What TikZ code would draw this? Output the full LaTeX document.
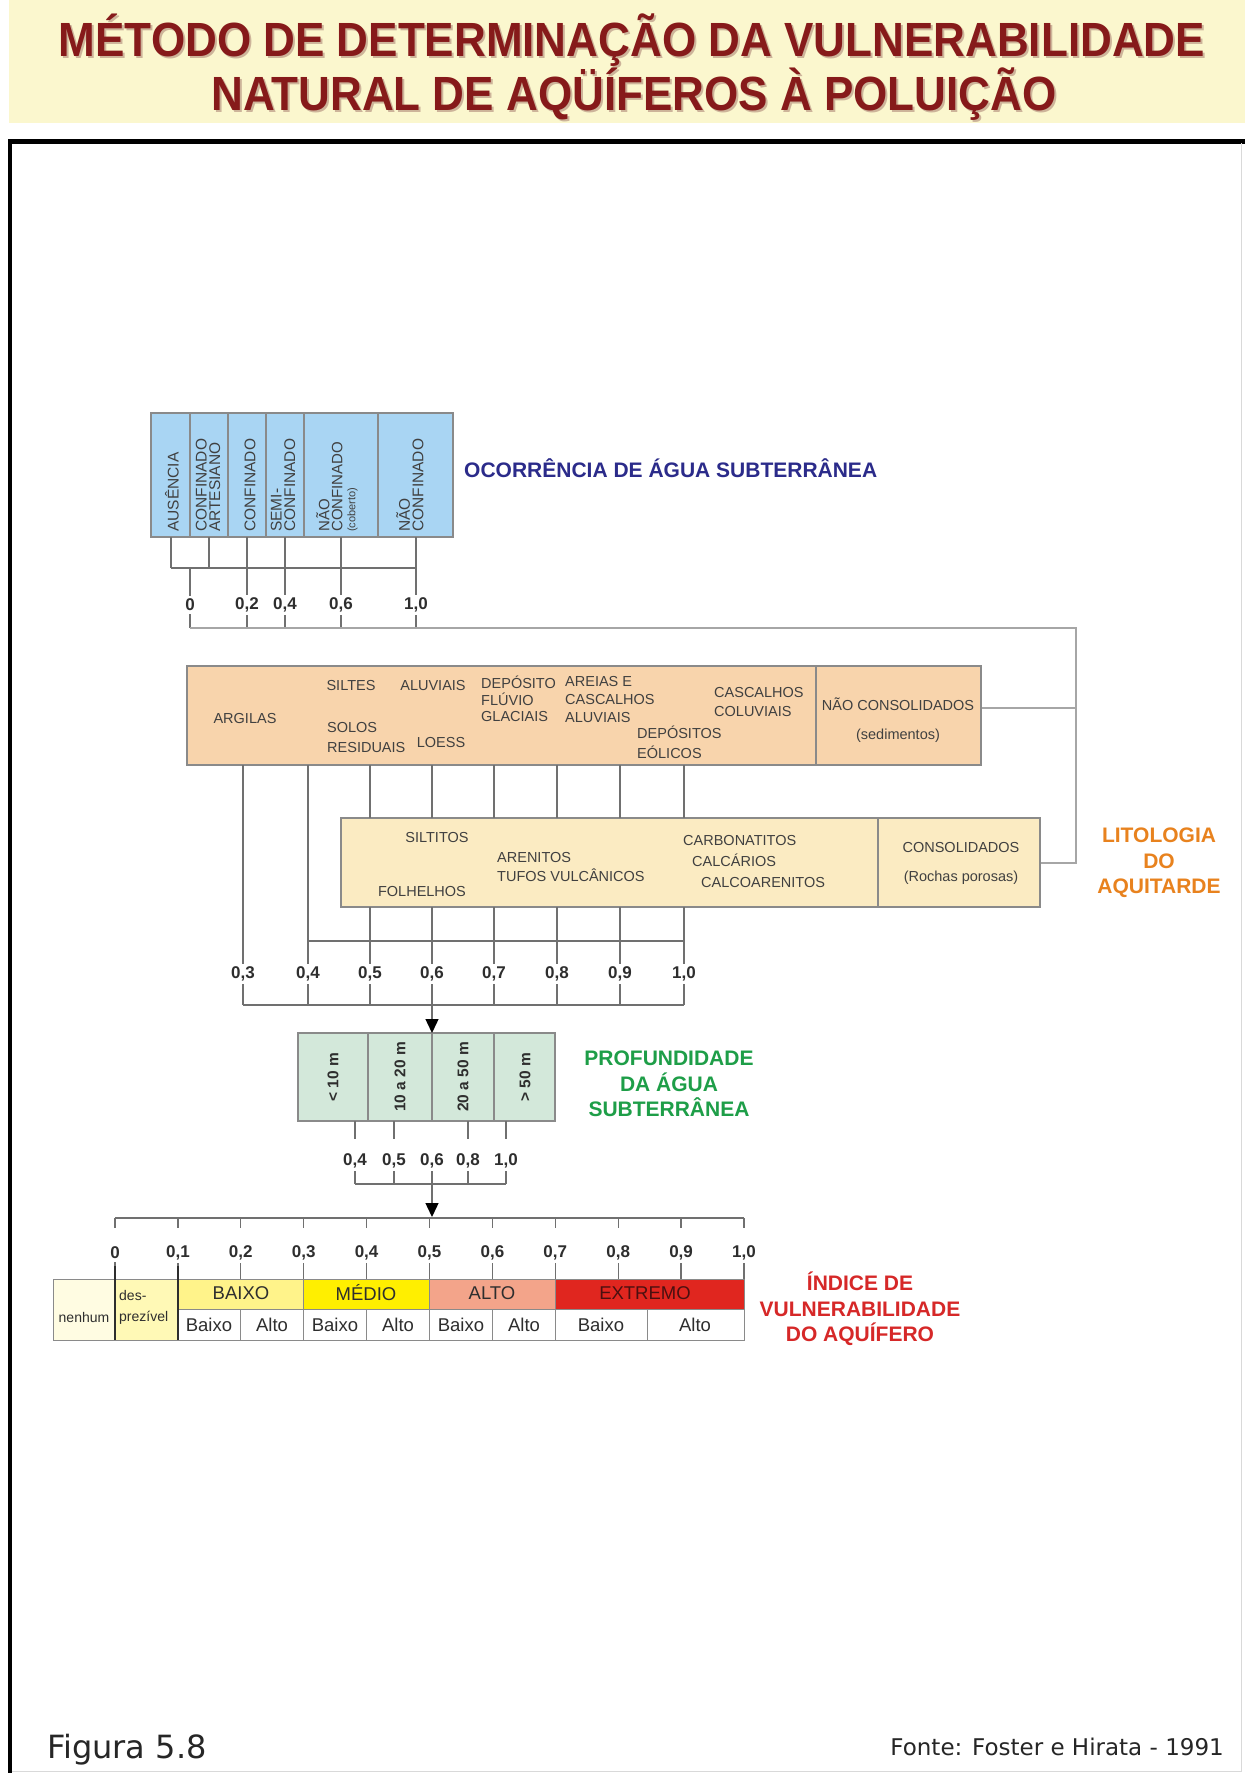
\documentclass[tikz,border=0pt]{standalone}
\usepackage{graphicx}
\usepackage{fontspec}
\setmainfont{Liberation Sans}
\newfontfamily\footfont{DejaVu Sans}
\usetikzlibrary{arrows.meta}

\definecolor{bandyellow}{HTML}{FBF7CE}
\definecolor{titlered}{HTML}{861A1A}
\definecolor{titleshade}{HTML}{CDB49A}
\definecolor{skyblue}{HTML}{A9D5F3}
\definecolor{peach}{HTML}{F8D4AC}
\definecolor{paleyellow}{HTML}{FBEBC2}
\definecolor{mint}{HTML}{D3E8DA}
\definecolor{edgegray}{HTML}{8A8A8A}
\definecolor{inktext}{HTML}{404040}
\definecolor{numink}{HTML}{2E2E2E}
\definecolor{linkgray}{HTML}{707070}
\definecolor{railgray}{HTML}{A6A6A6}
\definecolor{ocorblue}{HTML}{2B2B8A}
\definecolor{litoorange}{HTML}{E8821E}
\definecolor{profgreen}{HTML}{1E9E48}
\definecolor{indexred}{HTML}{D62828}
\definecolor{nilcream}{HTML}{FFFCE2}
\definecolor{negyellow}{HTML}{FFF9B6}
\definecolor{lowyellow}{HTML}{FFF38A}
\definecolor{midyellow}{HTML}{FFEF00}
\definecolor{highsalmon}{HTML}{F3A48A}
\definecolor{extremered}{HTML}{E0261F}
\definecolor{extremeink}{HTML}{4A1010}

\tikzset{
  panel/.style={draw=edgegray, line width=1.2pt, inner sep=0pt, outer sep=0pt, anchor=north west},
  divider/.style={draw=edgegray, line width=1.2pt},
  cline/.style={draw=linkgray, line width=1.3pt},
  railline/.style={draw=railgray, line width=1.4pt},
  downarrow/.style={cline, -{Triangle[width=13pt,length=14pt,color=black]}},
  boxtxt/.style={text=inktext, inner sep=0pt, font=\fontsize{14.5}{15.5}\selectfont},
  rottxt/.style={text=inktext, inner sep=0pt, rotate=90, anchor=west, align=left, font=\fontsize{15.5}{13.5}\selectfont},
  depthtxt/.style={text=numink, inner sep=0pt, rotate=90, font=\bfseries\fontsize{15.5}{15.5}\selectfont},
  num/.style={text=numink, inner sep=3pt, font=\bfseries\fontsize{17}{17}\selectfont},
  headtxt/.style={inner sep=0pt, align=center, font=\bfseries\fontsize{21}{25.5}\selectfont},
  titletext/.style={inner sep=0pt, anchor=base, text=titlered, font=\bfseries\fontsize{48}{48}\selectfont},
  barcell/.style={draw=edgegray, line width=1pt, inner sep=0pt, outer sep=0pt, anchor=north west},
  bartxt/.style={text=numink, inner sep=0pt, font=\fontsize{18.5}{18.5}\selectfont},
  smalltxt/.style={text=numink, inner sep=0pt, align=left, font=\fontsize{14}{21}\selectfont},
}

\begin{document}
\begin{tikzpicture}[x=1pt,y=-1pt]
\useasboundingbox (0,0) rectangle (1245,1773);
\fill[white] (0,0) rectangle (1245,1773);

% ---------- title band ----------
\fill[bandyellow] (9,0) rectangle (1245,123);
\node[titletext, text=titleshade] (title1shadow) at (634,58.5) {\scalebox{0.917}[1]{MÉTODO DE DETERMINAÇÃO DA VULNERABILIDADE}};
\node[titletext, text=titleshade] (title2shadow) at (636,112) {\scalebox{0.917}[1]{NATURAL DE AQÜÍFEROS À POLUIÇÃO}};
\node[titletext] (title1) at (632,56.5) {\scalebox{0.917}[1]{MÉTODO DE DETERMINAÇÃO DA VULNERABILIDADE}};
\node[titletext] (title2) at (634,110) {\scalebox{0.917}[1]{NATURAL DE AQÜÍFEROS À POLUIÇÃO}};

% ---------- frame ----------
\draw[line width=5pt] (8,141) -- (1245,141);
\draw[line width=4pt] (10,139) -- (10,1773);
\draw[draw=black!15, line width=1pt] (1241,143) -- (1241,1771) -- (12,1771);

% ---------- occurrence of groundwater ----------
\node[panel, fill=skyblue, minimum width=302pt, minimum height=124pt] (ocor) at (151,413) {};
\foreach \x in {190,228,266,304,378}
  \draw[divider] (\x,413) -- (\x,537);
\node[rottxt] (aus) at (172,532) {AUSÊNCIA};
\node[rottxt] (confart) at (208,532) {CONFINADO\\ARTESIANO};
\node[rottxt] (conf) at (250,532) {CONFINADO};
\node[rottxt] (semi) at (283,532) {SEMI-\\CONFINADO};
\node[rottxt, font=\fontsize{15}{13}\selectfont] (naocob) at (337,532) {NÃO\\CONFINADO\\{\fontsize{11}{11}\selectfont(coberto)}};
\node[rottxt] (naoconf) at (410,532) {NÃO\\CONFINADO};
\node[headtxt, text=ocorblue, anchor=west] (ocortitle) at (464,468) {OCORRÊNCIA DE ÁGUA SUBTERRÂNEA};

\foreach \x in {171,209,247,285,341,416}
  \draw[cline] (\x,537) -- (\x,568);
\draw[cline] (171,568) -- (416,568);
\node[num] (oa) at (190,605) {0};
\node[num] (ob) at (247,605) {0,2};
\node[num] (oc) at (285,605) {0,4};
\node[num] (od) at (341,605) {0,6};
\node[num] (oe) at (416,605) {1,0};
\foreach \n/\x in {oa/190,ob/247,oc/285,od/341,oe/416}{
  \draw[cline] (\x,568) -- (\n.north);
  \draw[cline] (\n.south) -- (\x,628);
}
\draw[railline] (190,628) -- (1076,628) -- (1076,863) -- (1040,863);
\draw[railline] (1076,708) -- (981,708);

% ---------- lithology: unconsolidated ----------
\node[panel, fill=peach, minimum width=794pt, minimum height=99pt] (naocons) at (187,666) {};
\draw[divider] (816,666) -- (816,765);
\node[boxtxt] (argilas) at (245,718) {ARGILAS};
\node[boxtxt] (siltes) at (351,685) {SILTES};
\node[boxtxt] (aluv) at (433,685) {ALUVIAIS};
\node[boxtxt, anchor=west, align=left, font=\fontsize{14.5}{20}\selectfont] (solos) at (327,737) {SOLOS\\RESIDUAIS};
\node[boxtxt] (loess) at (441,742) {LOESS};
\node[boxtxt, anchor=west, align=left, font=\fontsize{14.5}{16.5}\selectfont] (fluvio) at (481,699) {DEPÓSITO\\FLÚVIO\\GLACIAIS};
\node[boxtxt, anchor=west, align=left, font=\fontsize{14.5}{18}\selectfont] (areias) at (565,699) {AREIAS E\\CASCALHOS\\ALUVIAIS};
\node[boxtxt, anchor=west, align=left, font=\fontsize{14.5}{20}\selectfont] (eolicos) at (637,742) {DEPÓSITOS\\EÓLICOS};
\node[boxtxt, anchor=west, align=left, font=\fontsize{14.5}{19}\selectfont] (coluv) at (714,702) {CASCALHOS\\COLUVIAIS};
\node[boxtxt, align=center, font=\fontsize{14.5}{29}\selectfont] (naoconslbl) at (898,720) {NÃO CONSOLIDADOS\\(sedimentos)};

% ---------- lithology: consolidated ----------
\node[panel, fill=paleyellow, minimum width=699pt, minimum height=89pt] (cons) at (341,818) {};
\draw[divider] (878,818) -- (878,907);
\node[boxtxt] (siltitos) at (437,837) {SILTITOS};
\node[boxtxt] (folhelhos) at (422,891) {FOLHELHOS};
\node[boxtxt, anchor=west, align=left, font=\fontsize{14.5}{19}\selectfont] (arenitos) at (497,867) {ARENITOS\\TUFOS VULCÂNICOS};
\node[boxtxt, anchor=west, align=left, font=\fontsize{14.5}{21}\selectfont] (carbon) at (683,861) {CARBONATITOS\\\hspace*{9pt}CALCÁRIOS\\\hspace*{18pt}CALCOARENITOS};
\node[boxtxt, align=center, font=\fontsize{14.5}{29}\selectfont] (conslbl) at (961,863) {CONSOLIDADOS\\(Rochas porosas)};
\node[headtxt, text=litoorange] (litotitle) at (1159,863) {LITOLOGIA\\DO\\AQUITARDE};

\node[num] (la) at (243,974) {0,3};
\node[num] (lb) at (308,974) {0,4};
\node[num] (lc) at (370,974) {0,5};
\node[num] (ld) at (432,974) {0,6};
\node[num] (le) at (494,974) {0,7};
\node[num] (lf) at (557,974) {0,8};
\node[num] (lg) at (620,974) {0,9};
\node[num] (lh) at (684,974) {1,0};
\draw[cline] (243,765) -- (la.north);
\draw[cline] (308,765) -- (lb.north);
\foreach \n/\x in {lc/370,ld/432,le/494,lf/557,lg/620,lh/684}{
  \draw[cline] (\x,765) -- (\x,818);
  \draw[cline] (\x,907) -- (\n.north);
}
\draw[cline] (308,941) -- (684,941);
\foreach \n/\x in {la/243,lb/308,lc/370,ld/432,le/494,lf/557,lg/620,lh/684}
  \draw[cline] (\n.south) -- (\x,1005);
\draw[cline] (243,1005) -- (684,1005);

% ---------- depth to groundwater ----------
\node[panel, fill=mint, minimum width=257pt, minimum height=88pt] (prof) at (298,1033) {};
\draw[downarrow] (432,1005) -- (prof.north -| 432,0);
\foreach \x in {368,432,494}
  \draw[divider] (\x,1033) -- (\x,1121);
\node[depthtxt] (d1) at (333,1077) {< 10 m};
\node[depthtxt] (d2) at (400,1077) {10 a 20 m};
\node[depthtxt] (d3) at (463,1077) {20 a 50 m};
\node[depthtxt] (d4) at (525,1077) {> 50 m};
\node[headtxt, text=profgreen] (proftitle) at (669,1084) {PROFUNDIDADE\\DA ÁGUA\\SUBTERRÂNEA};

\node[num] (pa) at (355,1161) {0,4};
\node[num] (pb) at (394,1161) {0,5};
\node[num] (pc) at (432,1161) {0,6};
\node[num] (pd) at (468,1161) {0,8};
\node[num] (pe) at (506,1161) {1,0};
\foreach \x in {355,394,468,506}
  \draw[cline] (\x,1121) -- (\x,1139);
\foreach \n/\x in {pa/355,pb/394,pc/432,pd/468,pe/506}
  \draw[cline] (\n.south) -- (\x,1184);
\draw[cline] (355,1184) -- (506,1184);

% ---------- vulnerability index ----------
\coordinate (axisL) at (115,1218);
\coordinate (axisR) at (744,1218);
\draw[downarrow] (432,1184) -- (432,1217);
\draw[cline] (axisL) -- (axisR);
\foreach \i/\t in {0/0,1/{0,1},2/{0,2},3/{0,3},4/{0,4},5/{0,5},6/{0,6},7/{0,7},8/{0,8},9/{0,9},10/{1,0}}{
  \draw[cline] (115+62.9*\i,1218) -- ++(0,10);
  \node[num] (v\i) at (115+62.9*\i,1253) {\t};
  \draw[cline] (v\i.south) -- (115+62.9*\i,1279);
}

\node[barcell, fill=nilcream, minimum width=62pt, minimum height=61pt] (nenhum) at (53,1279) {};
\node[barcell, fill=negyellow, minimum width=62.9pt, minimum height=61pt] (desprez) at (115,1279) {};
\node[barcell, fill=lowyellow, minimum width=125.8pt, minimum height=30pt] (baixo) at (177.9,1279) {};
\node[barcell, fill=midyellow, minimum width=125.8pt, minimum height=30pt] (medio) at (303.7,1279) {};
\node[barcell, fill=highsalmon, minimum width=125.8pt, minimum height=30pt] (alto) at (429.5,1279) {};
\node[barcell, fill=extremered, minimum width=188.7pt, minimum height=30pt] (extremo) at (555.3,1279) {};
\node[barcell, fill=white, minimum width=566.1pt, minimum height=31pt] (subrow) at (177.9,1309) {};
\foreach \x in {240.8,303.7,366.6,429.5,492.4,555.3,647}
  \draw[draw=edgegray, line width=1pt] (\x,1309) -- (\x,1340);
\draw[draw=numink, line width=1.2pt] (115,1266) -- (115,1340);
\draw[draw=numink, line width=1.2pt] (177.9,1266) -- (177.9,1340);

\node[smalltxt] (nenhumlbl) at (84,1317) {nenhum};
\node[smalltxt, anchor=west] (desprezlbl) at (119,1307) {des-\\prezível};
\node[bartxt] (baixolbl) at (241,1293) {BAIXO};
\node[bartxt] (mediolbl) at (366,1293) {MÉDIO};
\node[bartxt] (altolbl) at (492,1293) {ALTO};
\node[bartxt, text=extremeink] (extremolbl) at (645,1293) {EXTREMO};
\foreach \x/\t [count=\k] in {209/Baixo,272/Alto,335/Baixo,398/Alto,461/Baixo,524/Alto,601/Baixo,695/Alto}
  \node[bartxt] (sub\k) at (\x,1325) {\t};
\node[headtxt, text=indexred] (indextitle) at (860,1309) {ÍNDICE DE\\VULNERABILIDADE\\DO AQUÍFERO};

% ---------- footer ----------
\node[anchor=base west, inner sep=0pt, text=black!85, font=\footfont\fontsize{32}{32}\selectfont] (figlbl) at (47,1758) {Figura 5.8};
\node[anchor=base east, inner sep=0pt, text=black!85, font=\footfont\fontsize{23}{23}\selectfont] (fontelbl) at (1224,1755) {Fonte: Foster e Hirata - 1991};
\end{tikzpicture}
\end{document}
